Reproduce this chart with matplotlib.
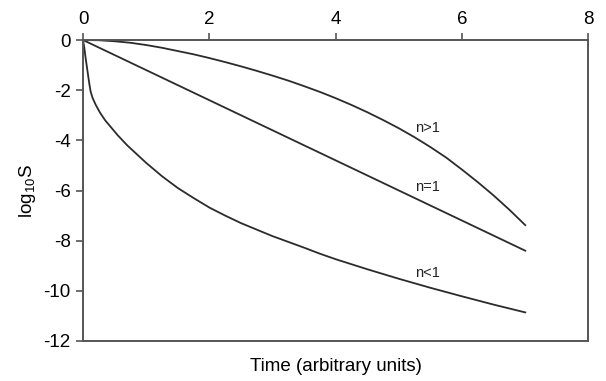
import matplotlib
matplotlib.use("Agg")
import matplotlib.pyplot as plt

plt.rcParams['font.family'] = ['Liberation Sans', 'DejaVu Sans']
plt.rcParams['mathtext.default'] = 'regular'
plt.rcParams['axes.unicode_minus'] = False

# survival curves, log10 S against time
t_high = [0, 0.25, 0.5, 0.75, 1, 1.25, 1.5, 1.75, 2, 2.25, 2.5, 2.75, 3,
          3.25, 3.5, 3.75, 4, 4.25, 4.5, 4.75, 5, 5.25, 5.5, 5.75, 6, 6.25,
          6.5, 6.75, 7]
s_high = [0, -0.01, -0.05, -0.11, -0.2, -0.31, -0.44, -0.57, -0.72, -0.88,
          -1.05, -1.23, -1.42, -1.62, -1.84, -2.07, -2.32, -2.59, -2.88,
          -3.19, -3.52, -3.88, -4.27, -4.69, -5.17, -5.67, -6.2, -6.77, -7.38]

t_one = [0, 7]
s_one = [0, -8.4]

t_low = [0, 0.02, 0.04, 0.06, 0.08, 0.1, 0.12, 0.15, 0.2, 0.27, 0.35, 0.45,
         0.55, 0.7, 0.85, 1, 1.25, 1.5, 1.75, 2, 2.25, 2.5, 2.75, 3, 3.25,
         3.5, 3.75, 4, 4.5, 5, 5.5, 6, 6.5, 7]
s_low = [0, -0.3, -0.7, -1.05, -1.4, -1.75, -2.05, -2.3, -2.58, -2.9, -3.2,
         -3.5, -3.8, -4.2, -4.55, -4.9, -5.43, -5.9, -6.3, -6.68, -7.0, -7.3,
         -7.56, -7.82, -8.05, -8.28, -8.52, -8.74, -9.14, -9.52, -9.88,
         -10.22, -10.55, -10.86]

labels = ["n>1", "n=1", "n<1"]
label_x = [5.45, 5.45, 5.45]
label_y = [-3.5, -5.88, -9.28]

fig = plt.figure(figsize=(6.06, 3.81), dpi=100)
ax = fig.add_axes([0.137, 0.105, 0.834, 0.79])

line_col = '#2b2b2b'
for t, s in [(t_high, s_high), (t_one, s_one), (t_low, s_low)]:
    ax.plot(t, s, color=line_col, lw=1.3)

for lab, x, y in zip(labels, label_x, label_y):
    ax.text(x, y, lab, fontsize=10.5, ha='center', va='center', color='#222222')

ax.set_xlim(0, 8)
ax.set_ylim(-12, 0)
ax.set_xticks([0, 2, 4, 6, 8])
ax.set_yticks([0, -2, -4, -6, -8, -10, -12])
ax.xaxis.tick_top()
ax.tick_params(axis='both', direction='out', length=5, width=1.2,
               color='#555555', labelsize=13.5, pad=4)
for sp in ax.spines.values():
    sp.set_color('#555555')
    sp.set_linewidth(1.4)

ax.set_xlabel("Time (arbitrary units)", fontsize=13.5, labelpad=12)
ax.xaxis.set_label_position('bottom')
ax.set_ylabel("log$_{10}$S", fontsize=13.5, labelpad=4)

fig.savefig("out.png", dpi=100)
